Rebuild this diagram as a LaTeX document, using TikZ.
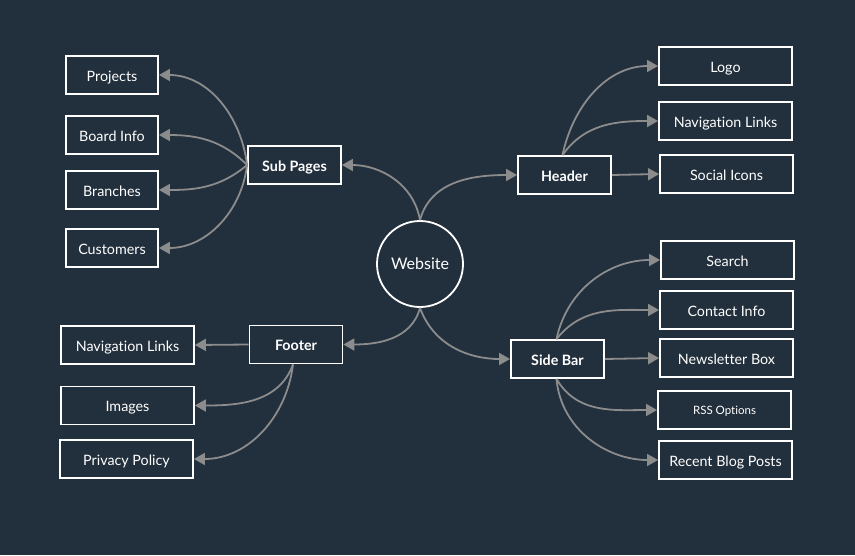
\documentclass[tikz,border=0pt]{standalone}
\usepackage{fontspec}
\setmainfont{Lato}[Ligatures=NoCommon]
\usetikzlibrary{arrows.meta}
\definecolor{bgc}{RGB}{34,47,60}
\definecolor{linec}{RGB}{140,140,140}
\tikzset{
  leaf/.style={draw=white, line width=1.8pt, fill=bgc, text=white, font=\fontsize{14.3}{16}\selectfont, minimum height=38pt, inner sep=0pt, text height=12.5pt, text depth=0pt},
  hub/.style={leaf, font=\fontsize{14.3}{16}\selectfont\bfseries, minimum width=93pt},
  conn/.style={draw=linec, line width=1.8pt, -{Triangle[length=11pt,width=12pt]}},
}
\begin{document}
\begin{tikzpicture}[x=1pt,y=1pt]
\fill[bgc] (0,0) rectangle (855,-555);
\useasboundingbox (0,0) rectangle (855,-555);

\node[circle, draw=white, line width=1.8pt, minimum size=86pt, inner sep=0pt, text=white, font=\fontsize{16}{18}\selectfont, text height=11pt, text depth=0pt] (web) at (420,-264) {Website};

\node[hub] (sub) at (294.5,-165) {Sub Pages};
\node[hub] (head) at (564.5,-175) {Header};
\node[hub] (foot) at (296,-344.5) {Footer};
\node[hub] (side) at (557.5,-359) {Side Bar};

\node[leaf, minimum width=92pt] (proj) at (112,-75) {Projects};
\node[leaf, minimum width=92pt] (board) at (112,-135) {Board Info};
\node[leaf, minimum width=92pt] (branch) at (112,-190) {Branches};
\node[leaf, minimum width=92pt] (cust) at (112,-248) {Customers};

\node[leaf, minimum width=133pt] (navl) at (127.5,-345) {Navigation Links};
\node[leaf, minimum width=133pt] (img) at (127.5,-405.5) {Images};
\node[leaf, minimum width=133pt] (priv) at (126.5,-459) {Privacy Policy};

\node[leaf, minimum width=133pt] (logo) at (725.5,-66) {Logo};
\node[leaf, minimum width=133pt] (navr) at (725.5,-121) {Navigation Links};
\node[leaf, minimum width=133pt] (soc) at (726.5,-174) {Social Icons};

\node[leaf, minimum width=133pt] (search) at (727.5,-260) {Search};
\node[leaf, minimum width=133pt] (contact) at (726.5,-310) {Contact Info};
\node[leaf, minimum width=133pt] (news) at (726.5,-358) {Newsletter Box};
\node[leaf, minimum width=133pt, font=\fontsize{11.5}{13}\selectfont, text height=8pt] (rss) at (724.5,-410) {RSS Options};
\node[leaf, minimum width=133pt] (recent) at (725.5,-460) {Recent Blog Posts};

% center connectors
\draw[conn] (web.north) to[out=100,in=0] (sub.east);
\draw[conn] (web.north) to[out=75,in=180] (head.west);
\draw[conn] (web.south) to[out=-105,in=0] (foot.east);
\draw[conn] (web.south) to[out=-70,in=180] (side.west);

% sub pages
\draw[conn] (sub.west) to[out=97,in=0] (proj.east);
\draw[conn] (sub.west) to[out=135,in=0] (board.east);
\draw[conn] (sub.west) to[out=-140,in=0] (branch.east);
\draw[conn] (sub.west) to[out=-97,in=0] (cust.east);

% header
\draw[conn] ([xshift=-2pt]head.north) to[out=78,in=180] (logo.west);
\draw[conn] ([xshift=-2pt]head.north) to[out=55,in=180] (navr.west);
\draw[conn] (head.east) -- (soc.west);

% footer
\draw[conn] (foot.west) -- (navl.east);
\draw[conn] ([xshift=-3pt]foot.south) to[out=-110,in=0] (img.east);
\draw[conn] ([xshift=-3pt]foot.south) to[out=-97,in=0] (priv.east);

% side bar
\draw[conn] ([xshift=-1pt]side.north) to[out=78,in=180] (search.west);
\draw[conn] ([xshift=-1pt]side.north) to[out=52,in=180] (contact.west);
\draw[conn] (side.east) -- (news.west);
\draw[conn] ([xshift=-1pt]side.south) to[out=-60,in=180] (rss.west);
\draw[conn] ([xshift=-1pt]side.south) to[out=-85,in=180] (recent.west);
\end{tikzpicture}
\end{document}
